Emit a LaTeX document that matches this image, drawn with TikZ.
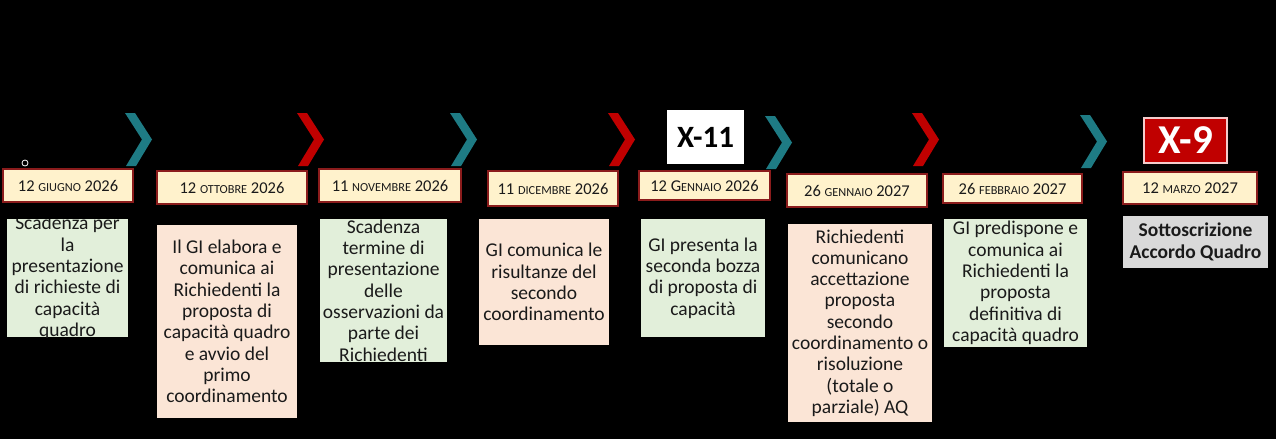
\documentclass[tikz,border=0pt]{standalone}
\usepackage{fontspec}
\setmainfont{Carlito}
\definecolor{cream}{HTML}{FFF2CC}
\definecolor{lgreen}{HTML}{E2EFDA}
\definecolor{lpink}{HTML}{FBE5D6}
\definecolor{lgray}{HTML}{D9D9D9}
\definecolor{datebord}{HTML}{8B1C1C}
\definecolor{chevred}{HTML}{C00000}
\definecolor{chevteal}{HTML}{1E7B84}
\definecolor{xninebord}{HTML}{F4CCCC}
\definecolor{txt}{HTML}{1A1A1A}
\newcommand\mon[1]{{\fontsize{12.3}{13}\selectfont #1}}
\tikzset{
  datebox/.style={draw=datebord, line width=1.4pt, fill=cream, anchor=north west,
    inner sep=0pt, outer sep=0pt, text=txt, font=\fontsize{16.5}{17}\selectfont},
  panel/.style={anchor=north west, inner sep=0pt, outer sep=0pt},
  paneltext/.style={align=center, text=txt, inner sep=0pt, font=\fontsize{19.5}{21.3}\selectfont},
  chevron/.pic={\fill (0,0) -- (10,0) -- (27,26.5) -- (11,53) -- (1,53) -- (17,26.5) -- cycle;}
}
\begin{document}
\begin{tikzpicture}[x=1pt,y=-1pt]
\fill[black] (0,0) rectangle (1276,439);
\useasboundingbox (0,0) rectangle (1276,439);

% chevrons
\pic[chevteal] at (125,113) {chevron};
\pic[chevred]  at (297,113) {chevron};
\pic[chevteal] at (450,113) {chevron};
\pic[chevred]  at (608,113) {chevron};
\pic[chevteal] at (765,116) {chevron};
\pic[chevred]  at (912,113) {chevron};
\pic[chevteal] at (1080,115) {chevron};

% small circle
\node[circle, draw=white, line width=0.8pt, fill=black, minimum size=6pt, inner sep=0pt] (dot) at (25,163) {};

% labels X-11, X-9
\node[panel, fill=white, minimum width=77pt, minimum height=54pt, font=\bfseries\fontsize{31}{31}\selectfont, text=black] (x11) at (667,110) {X-11};
\node[panel, fill=chevred, draw=xninebord, line width=1.4pt, minimum width=83pt, minimum height=45pt, font=\bfseries\fontsize{41}{41}\selectfont, text=white] (x9) at (1144,118) {X-9};

% dates
\node[datebox, minimum width=130pt, minimum height=33pt] (d1) at (3,169) {12 \mon{GIUGNO} 2026};
\node[datebox, minimum width=150pt, minimum height=33pt] (d2) at (157,171) {12 \mon{OTTOBRE} 2026};
\node[datebox, minimum width=142pt, minimum height=33pt] (d3) at (319,169) {11 \mon{NOVEMBRE} 2026};
\node[datebox, minimum width=130pt, minimum height=35pt] (d4) at (488,171) {11 \mon{DICEMBRE} 2026};
\node[datebox, minimum width=131pt, minimum height=29pt] (d5) at (639,171) {12 G\mon{ENNAIO} 2026};
\node[datebox, minimum width=140pt, minimum height=33pt] (d6) at (787,174) {26 \mon{GENNAIO} 2027};
\node[datebox, minimum width=139pt, minimum height=29pt] (d7) at (943,174) {26 \mon{FEBBRAIO} 2027};
\node[datebox, minimum width=134pt, minimum height=32pt] (d8) at (1123,172) {12 \mon{MARZO} 2027};

% panels
\node[panel, fill=lgreen, minimum width=121pt, minimum height=118pt] (p1) at (7,219) {};
\begin{scope}
\clip (p1.north west) rectangle (p1.south east);
\node[paneltext] (t1) at (p1.center) {Scadenza per\\la\\presentazione\\di richieste di\\capacità\\quadro};
\end{scope}

\node[panel, fill=lpink, minimum width=140pt, minimum height=193pt] (p2) at (157,225) {};
\node[paneltext] (t2) at (p2.center) {Il GI elabora e\\comunica ai\\Richiedenti la\\proposta di\\capacità quadro\\e avvio del\\primo\\coordinamento};

\node[panel, fill=lgreen, minimum width=127pt, minimum height=143pt] (p3) at (320,219) {};
\begin{scope}
\clip (p3.north west) rectangle (p3.south east);
\node[paneltext] (t3) at (p3.center) {Scadenza\\termine di\\presentazione\\delle\\osservazioni da\\parte dei\\Richiedenti};
\end{scope}

\node[panel, fill=lpink, minimum width=130pt, minimum height=126pt] (p4) at (479,219) {};
\node[paneltext] (t4) at (p4.center) {GI comunica le\\risultanze del\\secondo\\coordinamento};

\node[panel, fill=lgreen, minimum width=124pt, minimum height=118pt] (p5) at (641,219) {};
\node[paneltext] (t5) at (p5.center) {GI presenta la\\seconda bozza\\di proposta di\\capacità};

\node[panel, fill=lpink, minimum width=144pt, minimum height=198pt] (p6) at (788,224) {};
\node[paneltext] (t6) at (p6.center) {Richiedenti\\comunicano\\accettazione\\proposta\\secondo\\coordinamento o\\risoluzione\\(totale o\\parziale) AQ};

\node[panel, fill=lgreen, minimum width=143pt, minimum height=128pt] (p7) at (944,219) {};
\node[paneltext] (t7) at (p7.center) {GI predispone e\\comunica ai\\Richiedenti la\\proposta\\definitiva di\\capacità quadro};

\node[panel, fill=lgray, minimum width=145pt, minimum height=52pt] (p8) at (1123,216) {};
\node[paneltext, font=\bfseries\fontsize{19.5}{21.3}\selectfont] (t8) at (p8.center) {Sottoscrizione\\Accordo Quadro};
\end{tikzpicture}
\end{document}
